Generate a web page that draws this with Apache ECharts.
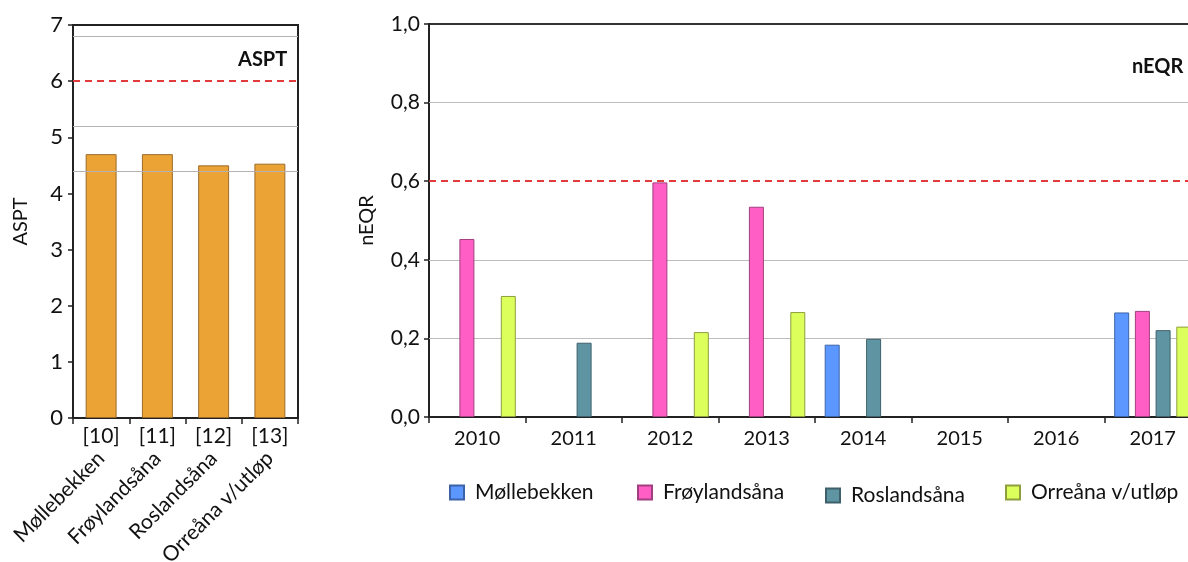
<!DOCTYPE html>
<html><head><meta charset="utf-8">
<script src="https://cdn.jsdelivr.net/npm/echarts@6/dist/echarts.min.js"></script>
<style>html,body{margin:0;padding:0;background:#fff}#c{width:1188px;height:562px}</style>
</head><body><div id="c"></div>
<script>
// ---- data ----
const sites = ['Møllebekken', 'Frøylandsåna', 'Roslandsåna', 'Orreåna v/utløp'];
const siteCodes = ['[10]', '[11]', '[12]', '[13]'];
const asptValues = [4.7, 4.7, 4.5, 4.53];
const asptBoundaries = [4.4, 5.2, 6.8];
const asptTarget = 6.0;

const years = ['2010', '2011', '2012', '2013', '2014', '2015', '2016', '2017'];
const neqrMollebekken   = [null, null, null, null, 0.184, null, null, 0.266];
const neqrFroylandsana  = [0.453, null, 0.597, 0.535, null, null, null, 0.270];
const neqrRoslandsana   = [null, 0.189, null, null, 0.199, null, null, 0.221];
const neqrOrreana       = [0.308, null, 0.216, 0.267, null, null, null, 0.230];
const neqrGridLines = [0.2, 0.4, 0.8];
const neqrTarget = 0.6;

const FONT = 'Lato';
const seriesColors = ['#5b97ff', '#ff5ec4', '#5f95a3', '#ddff5c'];
const seriesBorders = ['#3c63a8', '#a23f80', '#3d606a', '#8e9e3c'];
const neqrSeriesData = [neqrMollebekken, neqrFroylandsana, neqrRoslandsana, neqrOrreana];

const chart = echarts.init(document.getElementById('c'), null, {renderer: 'canvas'});
const comma = v => v.toFixed(1).replace('.', ',');

const neqrSeries = sites.map((s, i) => {
  const o = {
    name: s, type: 'bar', xAxisIndex: 2, yAxisIndex: 1,
    data: neqrSeriesData[i], barWidth: 15, barGap: '38%',
    itemStyle: {color: seriesColors[i], borderColor: seriesBorders[i], borderWidth: 1},
    emphasis: {disabled: true}
  };
  if (i === 0) {
    o.markLine = {silent: true, symbol: 'none', z: 1, label: {show: false},
      lineStyle: {color: '#bdbdbd', type: 'solid', width: 1.2},
      data: neqrGridLines.map(v => ({yAxis: v}))};
  }
  if (i === 1) {
    o.markLine = {silent: true, symbol: 'none', z: 6, label: {show: false},
      lineStyle: {color: '#e03c3c', type: [7, 5], width: 2},
      data: [{yAxis: neqrTarget}]};
  }
  return o;
});

const legendLefts = [444, 632, 820, 1000];

chart.setOption({
  animation: false,
  backgroundColor: '#fff',
  textStyle: {fontFamily: FONT},
  title: [
    {text: 'ASPT', left: 233, top: 45, textStyle: {fontFamily: FONT, fontSize: 20, fontWeight: 'bold', color: '#111'}},
    {text: 'nEQR', left: 1127, top: 52, textStyle: {fontFamily: FONT, fontSize: 20, fontWeight: 'bold', color: '#111'}}
  ],
  legend: sites.map((s, i) => ({
    data: [s], left: legendLefts[i], top: 477 + (i === 2 ? 3 : 0),
    itemWidth: 14, itemHeight: 14, icon: 'rect',
    textStyle: {fontFamily: FONT, fontSize: 21, color: '#111', padding: [0, 0, 0, 6]},
    selectedMode: false
  })),
  grid: [
    {left: 73, top: 25, width: 225, height: 393, show: true, borderColor: '#222', borderWidth: 2, outerBoundsMode: 'none', containLabel: false},
    {left: 429, top: 24, width: 772, height: 393, show: true, borderColor: '#333', borderWidth: 2, outerBoundsMode: 'none', containLabel: false}
  ],
  xAxis: [
    {gridIndex: 0, type: 'category', data: siteCodes, position: 'bottom',
      axisLine: {lineStyle: {color: '#222', width: 2}},
      axisTick: {show: true, length: 6, lineStyle: {color: '#222', width: 1.5}},
      axisLabel: {fontFamily: FONT, fontSize: 21, color: '#111', margin: 8}},
    {gridIndex: 0, type: 'category', data: sites, position: 'bottom', offset: 35,
      axisLine: {show: false}, axisTick: {show: false},
      axisLabel: {fontFamily: FONT, fontSize: 21, color: '#111', rotate: 45, margin: 2, interval: 0, padding: [0, 0, 0, 0]}},
    {gridIndex: 1, type: 'category', data: years, position: 'bottom',
      axisLine: {lineStyle: {color: '#222', width: 2}},
      axisTick: {show: true, length: 6, lineStyle: {color: '#222', width: 1.5}},
      axisLabel: {fontFamily: FONT, fontSize: 20, color: '#111', margin: 12}}
  ],
  yAxis: [
    {gridIndex: 0, type: 'value', min: 0, max: 7, interval: 1,
      name: 'ASPT', nameLocation: 'middle', nameGap: 42, nameRotate: 90,
      nameTextStyle: {fontFamily: FONT, fontSize: 20, color: '#111'},
      axisLine: {show: true, lineStyle: {color: '#222', width: 2}},
      axisTick: {show: true, length: 5, lineStyle: {color: '#222', width: 1.5}},
      splitLine: {show: false},
      axisLabel: {fontFamily: FONT, fontSize: 22, color: '#111', margin: 10}},
    {gridIndex: 1, type: 'value', min: 0, max: 1, interval: 0.2,
      name: 'nEQR', nameLocation: 'middle', nameGap: 52, nameRotate: 90,
      nameTextStyle: {fontFamily: FONT, fontSize: 20, color: '#111'},
      axisLine: {show: true, lineStyle: {color: '#222', width: 2}},
      axisTick: {show: true, length: 5, lineStyle: {color: '#222', width: 1.5}},
      splitLine: {show: false},
      axisLabel: {fontFamily: FONT, fontSize: 21, color: '#111', margin: 9, formatter: comma}}
  ],
  series: [
    {name: 'ASPT', type: 'bar', xAxisIndex: 0, yAxisIndex: 0, data: asptValues, barWidth: '55%',
      itemStyle: {color: '#eca336', borderColor: '#9c6b28', borderWidth: 1},
      emphasis: {disabled: true},
      markLine: {silent: true, symbol: 'none', z: 5, label: {show: false},
        data: asptBoundaries.map(v => ({yAxis: v, lineStyle: {color: '#b3b3b3', type: 'solid', width: 1.2}}))
          .concat([{yAxis: asptTarget, lineStyle: {color: '#e03c3c', type: [7, 5], width: 2}}])}
    }
  ].concat(neqrSeries)
});
</script></body></html>
